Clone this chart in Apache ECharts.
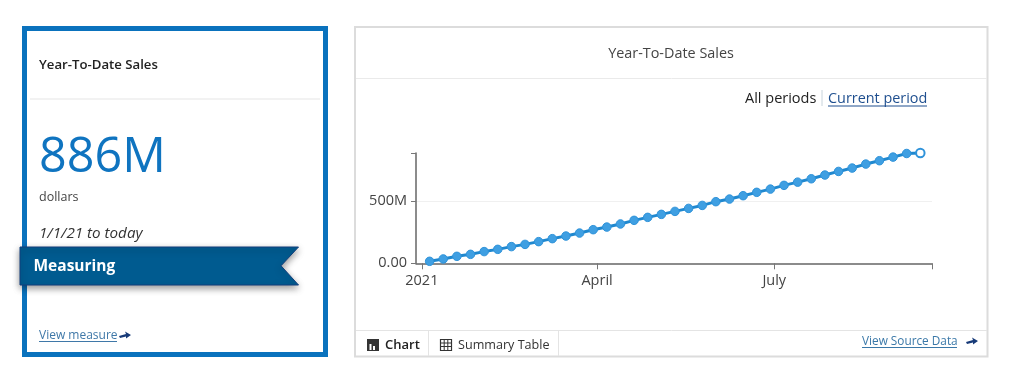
<!DOCTYPE html>
<html><head><meta charset="utf-8">
<style>html,body{margin:0;padding:0;background:#fff}#c{width:1020px;height:392px}</style>
<script src="https://cdn.jsdelivr.net/npm/echarts@6/dist/echarts.min.js"></script>
</head><body><div id="c"></div>
<script>
const weekDates = ['2021-01-05','2021-01-12','2021-01-19','2021-01-26','2021-02-02','2021-02-09','2021-02-16','2021-02-23','2021-03-02','2021-03-09','2021-03-16','2021-03-23','2021-03-30','2021-04-06','2021-04-13','2021-04-20','2021-04-27','2021-05-04','2021-05-11','2021-05-18','2021-05-25','2021-06-01','2021-06-08','2021-06-15','2021-06-22','2021-06-29','2021-07-06','2021-07-13','2021-07-20','2021-07-27','2021-08-03','2021-08-10','2021-08-17','2021-08-24','2021-08-31','2021-09-07','2021-09-14'];
const salesMillions = [16,35,56,72,94,112,134,152,174,198,219,243,270,291,316,345,369,393,417,441,465,495,516,543,570,596,626,652,679,709,738,765,797,824,853,882,886];
const xTickDates = ['2021-01-01','2021-04-01','2021-07-01'];
const xTickLabels = ['2021','April','July'];
const xRange = ['2020-12-29','2021-09-20'];
const yLabelValues = [0,500];
const yMaxValue = 886;

const FONT = '"Open Sans", sans-serif';
const ms = s => +echarts.time.parse(s);
const xTicks = xTickDates.map(ms);
const points = weekDates.map((d,i) => {
  const p = {value:[ms(d), salesMillions[i]]};
  if (i === weekDates.length-1) p.itemStyle = {color:'#fff', borderColor:'#2f93da', borderWidth:2};
  return p;
});
const txt = (x,y,text,o={}) => ({type:'text',silent:true,x,y,style:Object.assign({text,fontFamily:FONT,fontSize:13,fill:'#333',align:'left',verticalAlign:'middle'},o)});
const box = (x,y,width,height,style) => ({type:'rect',silent:true,shape:{x,y,width,height},style});
const ln = (x1,y1,x2,y2,stroke,lineWidth=1) => ({type:'line',silent:true,shape:{x1,y1,x2,y2},style:{stroke,lineWidth}});
const arrow = (x,y,fill) => ({type:'polygon',silent:true,shape:{points:[[x,y+1],[x+7,y-1],[x+6,y-3.5],[x+12,y],[x+7,y+3.5],[x+7,y+1.5],[x+1,y+3]]},style:{fill}});

const graphic = [
  // left card
  box(24.5,28.5,301,326,{fill:'#fff',stroke:'#0a72bd',lineWidth:5}),
  ln(30,99,320,99,'#eeeeee',1.5),
  txt(39,65,'Year-To-Date Sales',{fontSize:13.2,fontWeight:600,fill:'#222'}),
  txt(39,158,'886M',{fontSize:48.5,fontWeight:400,fill:'#0f74c0'}),
  txt(39,197,'dollars',{fontSize:12.5,fill:'#444'}),
  txt(39,234,'1/1/21 to today',{fontSize:15.2,fontStyle:'italic',fill:'#333'}),
  {type:'polygon',silent:true,shape:{points:[[20,247],[298.5,247],[281,265.8],[298.5,285],[20,285]]},
    style:{fill:'#005b90',stroke:'#123f7c',lineWidth:1,shadowBlur:7,shadowOffsetY:3,shadowColor:'rgba(0,0,0,0.4)'}},
  txt(33.5,267,'Measuring',{fontSize:15.5,fontWeight:700,fill:'#fff'}),
  txt(39,336,'View measure',{fontSize:12,fill:'#3f78a8'}),
  ln(39,341.5,117,341.5,'#3f78a8',1),
  arrow(119,335,'#173a78'),
  // right card
  box(355,27,632.5,329.5,{fill:'none',stroke:'#dcdcdc',lineWidth:2}),
  ln(356,78.5,987,78.5,'#eaeaea',1),
  txt(671,54,'Year-To-Date Sales',{fontSize:14.4,align:'center',fill:'#444'}),
  txt(745,99,'All periods',{fontSize:14.5,fill:'#222'}),
  ln(822,90,822,106,'#c8d4dc',1),
  txt(828,99,'Current period',{fontSize:14.4,fill:'#1f4f8f'}),
  ln(828,106,927,106,'#1f4f8f',1),
  ln(356,330.5,987,330.5,'#e4e4e4',1),
  ln(428.5,331,428.5,356,'#e4e4e4',1),
  ln(558.5,331,558.5,356,'#e4e4e4',1),
  box(367,339,12,12,{fill:'#333'}),
  box(369.5,344,2,6,{fill:'#fff'}),box(373,346,2,4,{fill:'#fff'}),
  txt(385,345,'Chart',{fontSize:13,fontWeight:600,fill:'#222'}),
  box(440.5,339.5,11,11,{fill:'#fff',stroke:'#333',lineWidth:1.2}),
  ln(440,343,452,343,'#333'),ln(440,346.5,452,346.5,'#333'),ln(444.2,339,444.2,351,'#333'),ln(447.8,339,447.8,351,'#333'),
  txt(458,345.5,'Summary Table',{fontSize:12.6,fill:'#333'}),
  txt(862,341.5,'View Source Data',{fontSize:11.8,fill:'#3a78a8'}),
  ln(862,347.5,957,347.5,'#3a78a8',1),
  arrow(966,341,'#173a78')
];

const chart = echarts.init(document.getElementById('c'),null,{renderer:'canvas'});
chart.setOption({
  animation:false,
  backgroundColor:'#fff',
  graphic:{elements:graphic},
  grid:{left:416,top:153,width:516,height:110.3,containLabel:false},
  xAxis:{type:'value',min:ms(xRange[0]),max:ms(xRange[1]),
    axisLine:{show:true,onZero:false,lineStyle:{color:'#666',width:1.5}},
    axisTick:{show:true,length:6,customValues:xTicks.concat(ms(xRange[1])),lineStyle:{color:'#777',width:1}},
    splitLine:{show:false},
    axisLabel:{customValues:xTicks,margin:10,fontFamily:FONT,fontSize:14.5,color:'#444',hideOverlap:false,
      formatter:v=>xTickLabels[xTicks.indexOf(+v)]||''}},
  yAxis:{type:'value',min:0,max:yMaxValue,
    axisLine:{show:true,lineStyle:{color:'#666',width:1.5}},
    axisTick:{show:true,length:5,customValues:[...yLabelValues,yMaxValue],lineStyle:{color:'#777',width:1}},
    splitLine:{show:true,showMinLine:false,showMaxLine:false,lineStyle:{color:'#f0f0f0',width:1}},
    axisLabel:{customValues:yLabelValues,margin:9,fontFamily:FONT,fontSize:14.5,color:'#444',verticalAlignMinLabel:'middle',
      formatter:v=>v===0?'0.00':v+'M'}},
  series:[{type:'line',data:points,symbol:'circle',symbolSize:8.5,showAllSymbol:true,clip:false,
    lineStyle:{color:'#1f88cf',width:3},
    itemStyle:{color:'#3f9fe2',borderColor:'#2f93da',borderWidth:1}}]
});
</script></body></html>
